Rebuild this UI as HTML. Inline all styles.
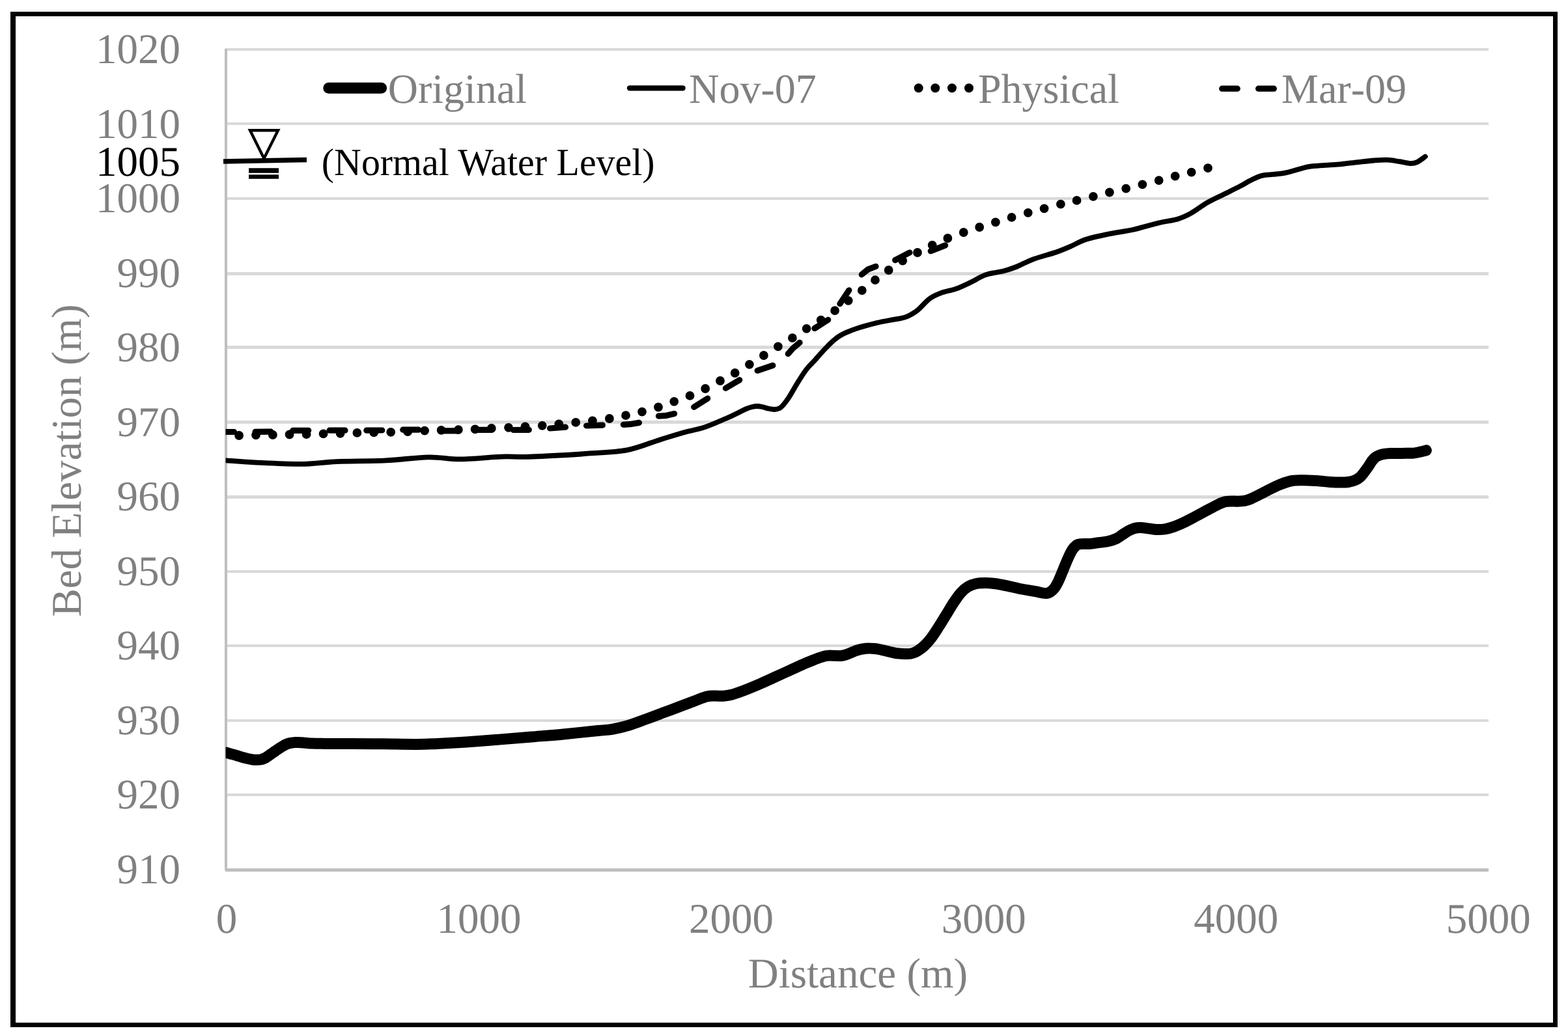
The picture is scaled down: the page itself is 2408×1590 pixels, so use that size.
<!DOCTYPE html>
<html lang="en"><head><meta charset="utf-8"><title>Bed Elevation vs Distance</title>
<style>
html,body{margin:0;padding:0;background:#fff;}
body{width:2408px;height:1590px;overflow:hidden;}
svg{display:block;}
text{font-family:"Liberation Serif",serif;font-size:65px;fill:#808080;font-kerning:none;font-variant-ligatures:none;text-rendering:geometricPrecision;}
.k{fill:#000;}
.c{fill:none;stroke:#000;stroke-linecap:round;stroke-linejoin:round;}
</style></head><body>
<svg role="img" aria-label="Bed elevation versus distance chart" width="2408" height="1590" viewBox="0 0 2408 1590">
<rect x="0" y="0" width="2408" height="1590" fill="#fff"/>
<path d="M16 18H2392V1578H16ZM24 25V1571H2385V25Z" fill="#000" fill-rule="evenodd"/>
<g fill="#D9D9D9">
<rect x="346" y="74" width="1940" height="4"/>
<rect x="346" y="188" width="1940" height="4"/>
<rect x="346" y="303" width="1940" height="4"/>
<rect x="346" y="418" width="1940" height="5"/>
<rect x="346" y="531" width="1940" height="5"/>
<rect x="346" y="646" width="1940" height="5"/>
<rect x="346" y="761" width="1940" height="5"/>
<rect x="346" y="876" width="1940" height="4"/>
<rect x="346" y="990" width="1940" height="4"/>
<rect x="346" y="1105" width="1940" height="4"/>
<rect x="346" y="1219" width="1940" height="4"/>
</g>
<g fill="#BFBFBF">
<rect x="345" y="75" width="4" height="1262"/>
<rect x="346" y="1334" width="1940" height="5"/>
</g>
<g text-anchor="end">
<text x="277" y="97.0">1020</text>
<text x="277" y="211.5">1010</text>
<text x="277" y="326.0">1000</text>
<text x="277" y="440.5">990</text>
<text x="277" y="555.0">980</text>
<text x="277" y="669.5">970</text>
<text x="277" y="784.0">960</text>
<text x="277" y="898.5">950</text>
<text x="277" y="1013.0">940</text>
<text x="277" y="1127.5">930</text>
<text x="277" y="1242.0">920</text>
<text x="277" y="1356.5">910</text>
<text class="k" x="277" y="270.3">1005</text>
</g>
<g text-anchor="middle">
<text x="348.0" y="1433">0</text>
<text x="735.5" y="1433">1000</text>
<text x="1123.1" y="1433">2000</text>
<text x="1510.7" y="1433">3000</text>
<text x="1898.2" y="1433">4000</text>
<text x="2285.8" y="1433">5000</text>
<text x="1317.5" y="1517">Distance (m)</text>
<text transform="translate(124 707.5) rotate(-90)" x="0" y="0">Bed Elevation (m)</text>
</g>
<g class="c">
<line x1="504.8" y1="135.3" x2="585.6" y2="135.3" stroke-width="17"/>
<line x1="967" y1="135.3" x2="1048.6" y2="135.3" stroke-width="8.3"/>
<path d="M1410.7 135.3h0M1436.3 135.3h0M1462 135.3h0M1488 135.3h0" stroke-width="14"/>
<path d="M1876.7 136.2H1900.2M1932.6 136.2H1956.3" stroke-width="9.3"/>
</g>
<text x="595.7" y="158" style="font-size:64px">Original</text>
<text x="1058.2" y="158" style="font-size:64px">Nov-07</text>
<text x="1502" y="158" style="font-size:64px">Physical</text>
<text x="1968" y="158" style="font-size:64px">Mar-09</text>
<g stroke="#000" fill="none">
<line x1="343" y1="248" x2="471" y2="245.5" stroke-width="7.3"/>
<polygon points="384,200.2 427,200.2 405.4,243.4" stroke-width="4.4" stroke-linejoin="miter"/>
<line x1="382.1" y1="262" x2="428" y2="262" stroke-width="7.6"/>
<line x1="382.1" y1="271.5" x2="428" y2="271.5" stroke-width="6.6"/>
</g>
<text class="k" transform="translate(493.8 269.2) scale(0.978 1)" x="0" y="0" style="font-size:59.2px;font-kerning:normal">(Normal Water Level)</text>
<clipPath id="plot"><rect x="346.6" y="60" width="1960" height="1290"/></clipPath>
<g clip-path="url(#plot)">
<path class="c" d="M347.0 1156.1C350.1 1156.9 359.8 1159.7 365.3 1161.2C370.8 1162.8 376.2 1164.4 380.0 1165.4C383.8 1166.4 385.6 1166.7 388.0 1167.0C390.4 1167.3 392.3 1167.3 394.5 1167.3C396.7 1167.3 398.8 1167.3 401.0 1166.8C403.2 1166.2 405.5 1165.4 408.0 1164.0C410.5 1162.6 412.4 1160.9 415.8 1158.6C419.2 1156.2 424.2 1152.5 428.4 1149.9C432.6 1147.3 436.9 1144.3 441.1 1142.8C445.3 1141.2 449.5 1140.9 453.7 1140.6C457.9 1140.3 462.1 1140.8 466.3 1141.0C470.5 1141.2 473.4 1141.9 479.0 1142.1C484.6 1142.3 489.8 1142.3 500.0 1142.4C510.2 1142.5 525.0 1142.4 540.0 1142.5C555.0 1142.6 573.3 1142.6 590.0 1142.8C606.7 1143.0 626.4 1143.5 640.0 1143.4C653.6 1143.4 659.0 1143.0 671.6 1142.5C684.2 1142.0 700.0 1141.2 715.8 1140.1C731.6 1139.0 749.5 1137.4 766.3 1136.1C783.1 1134.8 799.9 1133.4 816.8 1132.0C833.6 1130.6 850.5 1129.3 867.4 1127.7C884.2 1126.1 905.8 1123.7 917.9 1122.5C930.0 1121.3 932.1 1121.7 940.0 1120.3C947.9 1118.9 956.9 1116.8 965.3 1114.3C973.7 1111.8 982.1 1108.5 990.5 1105.4C998.9 1102.3 1007.4 1099.1 1015.8 1095.9C1024.2 1092.8 1032.7 1089.7 1041.1 1086.5C1049.5 1083.3 1058.9 1079.8 1066.3 1077.0C1073.7 1074.2 1080.0 1071.3 1085.3 1070.0C1090.6 1068.7 1093.7 1069.1 1097.9 1069.0C1102.1 1068.9 1106.3 1069.5 1110.5 1069.2C1114.7 1068.9 1117.9 1068.7 1123.2 1067.3C1128.5 1065.9 1134.7 1063.7 1142.1 1060.9C1149.5 1058.1 1159.0 1054.1 1167.4 1050.5C1175.8 1046.9 1184.1 1043.0 1192.6 1039.1C1201.1 1035.2 1211.1 1030.6 1218.5 1027.2C1225.9 1023.8 1230.9 1021.4 1237.1 1018.8C1243.3 1016.2 1250.2 1013.3 1255.6 1011.4C1261.0 1009.5 1264.9 1008.1 1269.5 1007.4C1274.1 1006.7 1279.6 1007.3 1283.4 1007.3C1287.2 1007.3 1289.5 1007.7 1292.6 1007.3C1295.7 1006.9 1298.0 1006.1 1301.9 1004.7C1305.8 1003.3 1311.2 1000.5 1315.8 999.1C1320.4 997.7 1325.8 996.8 1329.7 996.3C1333.6 995.8 1335.9 996.1 1339.0 996.2C1342.1 996.3 1344.4 996.4 1348.2 997.1C1352.0 997.8 1357.5 999.2 1362.1 1000.3C1366.7 1001.4 1371.4 1002.8 1376.0 1003.5C1380.6 1004.2 1386.0 1004.3 1389.9 1004.4C1393.8 1004.5 1396.1 1004.7 1399.2 1004.0C1402.3 1003.3 1405.0 1002.4 1408.3 1000.4C1411.6 998.4 1415.6 995.7 1419.3 992.2C1423.0 988.7 1426.8 984.5 1430.5 979.6C1434.2 974.7 1438.0 968.6 1441.7 962.8C1445.5 956.9 1449.2 950.6 1453.0 944.5C1456.8 938.4 1460.5 931.9 1464.2 926.3C1467.9 920.7 1471.7 915.0 1475.4 910.8C1479.1 906.6 1482.6 903.7 1486.6 901.3C1490.6 898.9 1494.8 897.5 1499.3 896.5C1503.8 895.5 1508.6 895.4 1513.3 895.4C1518.0 895.4 1521.4 895.7 1527.3 896.5C1533.2 897.3 1541.4 898.9 1548.4 900.3C1555.4 901.7 1562.4 903.6 1569.4 905.0C1576.4 906.4 1585.1 907.7 1590.5 908.7C1595.9 909.7 1598.4 910.8 1601.7 911.1C1605.0 911.5 1607.3 911.9 1610.1 910.8C1612.9 909.7 1615.9 907.5 1618.5 904.5C1621.1 901.5 1623.2 897.4 1625.5 892.6C1627.8 887.8 1630.2 881.4 1632.6 875.8C1634.9 870.2 1637.3 864.0 1639.6 858.9C1641.9 853.8 1644.3 848.5 1646.6 844.9C1648.9 841.3 1651.3 838.8 1653.6 837.2C1655.9 835.7 1657.3 835.9 1660.6 835.6C1663.9 835.3 1668.8 835.8 1673.2 835.5C1677.6 835.2 1682.5 834.2 1687.1 833.6C1691.7 833.0 1696.4 832.9 1701.0 831.8C1705.6 830.7 1711.0 829.0 1714.8 827.2C1718.6 825.4 1721.0 823.1 1724.1 821.1C1727.2 819.1 1730.3 816.9 1733.4 815.3C1736.5 813.7 1739.5 812.2 1742.6 811.4C1745.7 810.6 1748.8 810.5 1751.9 810.5C1755.0 810.5 1757.3 811.1 1761.2 811.6C1765.1 812.1 1770.5 813.2 1775.1 813.4C1779.7 813.6 1784.4 813.5 1789.0 812.8C1793.6 812.1 1798.2 810.7 1802.8 809.1C1807.4 807.5 1811.3 805.8 1816.7 803.3C1822.1 800.8 1829.1 797.0 1835.3 793.8C1841.5 790.5 1848.0 786.9 1853.8 783.8C1859.6 780.7 1865.6 777.4 1870.0 775.3C1874.4 773.2 1877.0 771.9 1880.4 771.0C1883.8 770.1 1887.1 770.0 1890.5 769.9C1893.9 769.8 1897.2 770.3 1900.6 770.2C1904.0 770.1 1907.3 770.0 1910.7 769.4C1914.1 768.8 1915.7 768.6 1920.8 766.4C1925.9 764.2 1934.3 759.7 1941.1 756.3C1947.8 752.9 1954.6 749.1 1961.3 746.2C1968.0 743.3 1975.1 740.5 1981.5 739.1C1987.9 737.7 1993.0 737.9 1999.7 737.8C2006.4 737.7 2014.8 738.2 2021.9 738.6C2029.0 739.0 2036.2 740.0 2042.1 740.4C2048.0 740.8 2052.5 741.1 2057.3 741.1C2062.1 741.1 2066.7 741.1 2070.7 740.5C2074.7 739.9 2078.5 738.8 2081.5 737.5C2084.5 736.2 2086.2 735.2 2088.6 733.0C2091.0 730.8 2093.7 727.1 2095.8 724.4C2098.0 721.6 2099.7 719.1 2101.5 716.5C2103.3 713.9 2104.8 711.0 2106.5 708.7C2108.2 706.5 2109.7 704.5 2111.5 703.0C2113.3 701.5 2115.2 700.6 2117.3 699.7C2119.5 698.8 2121.4 698.1 2124.4 697.6C2127.4 697.1 2130.4 696.7 2135.2 696.5C2140.0 696.3 2147.1 696.5 2153.1 696.4C2159.1 696.3 2166.2 696.5 2171.0 696.1C2175.8 695.7 2178.5 694.7 2181.7 694.0C2184.9 693.3 2188.9 692.2 2190.3 691.8" stroke-width="17"/>
<path class="c" d="M347.0 707.4C354.2 707.9 371.4 709.5 390.5 710.4C409.6 711.3 440.2 713.1 461.3 712.9C482.4 712.7 495.0 710.0 516.9 709.1C538.8 708.2 569.0 708.5 592.6 707.4C616.2 706.3 639.3 702.6 658.3 702.3C677.2 702.0 687.8 705.5 706.3 705.4C724.8 705.3 752.6 702.2 769.5 701.6C786.4 701.0 790.6 702.2 807.4 701.8C824.2 701.4 855.1 699.8 870.5 699.0C885.9 698.2 884.5 698.2 900.0 696.9C915.5 695.6 944.2 694.9 963.2 691.3C982.2 687.7 999.0 679.9 1013.7 675.4C1028.4 670.9 1040.2 667.2 1051.6 664.0C1063.0 660.8 1071.4 659.9 1081.9 656.4C1092.4 652.9 1106.2 646.6 1114.7 643.0C1123.2 639.4 1127.5 637.1 1132.6 634.7C1137.7 632.3 1141.5 630.0 1145.3 628.4C1149.1 626.8 1152.5 625.7 1155.4 625.0C1158.3 624.3 1160.4 624.0 1162.9 624.0C1165.4 624.0 1167.5 624.4 1170.5 625.0C1173.5 625.6 1177.4 627.1 1180.6 627.8C1183.8 628.5 1186.8 629.1 1189.5 629.0C1192.2 628.9 1194.8 628.5 1197.1 627.2C1199.4 626.0 1201.1 624.1 1203.4 621.5C1205.7 618.9 1208.4 615.2 1210.9 611.4C1213.4 607.6 1216.0 602.9 1218.5 598.7C1221.0 594.5 1223.6 590.2 1226.1 586.1C1228.6 582.0 1231.2 577.8 1233.7 574.1C1236.2 570.4 1238.3 567.5 1241.3 564.0C1244.2 560.5 1248.0 557.0 1251.4 553.3C1254.8 549.6 1258.1 545.6 1261.5 541.9C1264.9 538.2 1268.2 534.6 1271.6 531.2C1275.0 527.8 1278.3 524.5 1281.7 521.7C1285.1 519.0 1288.2 516.8 1291.8 514.7C1295.4 512.6 1299.2 511.0 1303.2 509.3C1307.2 507.6 1311.6 506.0 1315.8 504.6C1320.0 503.2 1323.1 502.3 1328.4 500.8C1333.7 499.3 1341.1 497.3 1347.4 495.8C1353.7 494.3 1361.0 493.0 1366.3 492.0C1371.5 491.0 1375.1 490.6 1378.9 489.9C1382.7 489.2 1385.8 488.6 1389.0 487.6C1392.2 486.6 1394.5 485.7 1397.9 483.8C1401.3 481.9 1404.3 480.7 1409.3 476.5C1414.3 472.3 1421.9 463.1 1427.9 458.7C1434.0 454.3 1438.9 452.4 1445.6 449.9C1452.3 447.4 1460.7 446.3 1468.3 443.6C1475.9 440.9 1483.5 437.1 1491.1 433.5C1498.7 429.9 1505.4 425.0 1513.8 422.1C1522.2 419.2 1533.6 418.4 1541.6 416.3C1549.6 414.2 1554.2 412.5 1561.8 409.5C1569.4 406.5 1577.0 401.8 1587.1 398.1C1597.2 394.4 1613.2 390.4 1622.5 387.2C1631.8 384.0 1635.1 382.4 1642.7 379.2C1650.3 376.0 1657.4 371.2 1667.9 367.8C1678.4 364.4 1693.7 361.4 1705.8 358.9C1717.9 356.4 1728.4 355.5 1740.5 352.8C1752.6 350.1 1767.0 345.4 1778.4 342.7C1789.8 340.0 1800.3 338.9 1808.7 336.4C1817.1 333.9 1821.4 331.8 1829.0 327.6C1836.6 323.4 1845.8 316.1 1854.2 311.2C1862.6 306.3 1871.1 302.7 1879.5 298.5C1887.9 294.3 1897.9 289.4 1904.7 285.9C1911.5 282.4 1914.5 280.0 1920.2 277.3C1925.9 274.6 1930.8 271.4 1938.7 269.6C1946.6 267.8 1959.2 268.0 1967.4 266.7C1975.6 265.4 1980.6 263.8 1987.6 262.0C1994.6 260.2 2001.7 257.5 2009.5 256.1C2017.3 254.7 2026.3 254.5 2034.7 253.8C2043.1 253.1 2051.6 252.9 2060.0 252.1C2068.4 251.3 2076.9 250.0 2085.3 249.1C2093.7 248.2 2102.9 247.1 2110.5 246.5C2118.1 245.9 2124.2 245.4 2130.7 245.7C2137.2 246.0 2143.4 247.3 2149.3 248.2C2155.2 249.1 2161.6 250.9 2166.1 251.1C2170.6 251.2 2172.4 250.8 2176.2 249.1C2180.0 247.3 2186.7 242.0 2188.8 240.6" stroke-width="7.8"/>
<path class="c" d="M340.0 663.5L359.5 663.5M392.0 663.4L416.0 663.2M449.7 661.4L473.7 661.3M506.0 661.2L530.0 661.2M562.8 661.2L586.8 661.0M618.7 660.2L642.7 660.2M678.9 661.8L702.6 661.8M730.2 660.4L754.2 660.4M788.3 660.5L812.3 660.3M844.5 658.0L868.5 656.2M900.6 654.0L925.4 653.1M957.4 652.4L968.0 651.7L981.4 649.4M1011.5 639.2L1021.7 638.7L1035.6 635.5M1065.7 625.3L1086.7 612.1M1114.4 596.4L1135.7 583.7M1163.2 569.4L1186.8 561.4M1210.3 543.6L1217.8 535.0L1228.1 526.3M1251.0 504.5L1271.7 491.3M1289.9 466.7L1303.8 445.9M1323.3 421.8L1333.0 413.9L1345.0 409.3M1374.7 399.6L1396.9 388.0M1429.3 385.7L1451.6 376.9" stroke-width="9.2"/>
<path class="c" d="M367.1 669.0h0M393.0 668.3h0M418.9 668.0h0M444.6 667.5h0M470.6 667.0h0M496.6 666.4h0M522.6 665.8h0M548.4 664.9h0M574.2 664.4h0M600.2 663.8h0M626.1 663.2h0M652.1 661.6h0M677.6 660.8h0M703.9 660.1h0M729.6 659.4h0M754.8 658.0h0M781.0 656.8h0M806.5 655.5h0M832.7 653.8h0M858.3 651.5h0M884.2 648.9h0M909.9 646.3h0M935.9 643.0h0M961.0 638.2h0M986.0 632.6h0M1011.0 625.5h0M1035.2 616.8h0M1059.5 607.9h0M1083.2 597.0h0M1106.0 585.0h0M1128.7 573.0h0M1150.9 559.8h0M1172.9 546.0h0M1194.9 532.3h0M1216.9 519.2h0M1238.6 504.8h0M1260.7 491.6h0M1282.1 477.1h0M1302.8 461.8h0M1323.8 446.1h0M1344.0 430.2h0M1364.7 415.0h0M1386.2 400.6h0M1409.0 388.0h0M1431.7 376.6h0M1455.4 366.0h0M1479.8 357.0h0M1504.2 349.0h0M1528.9 341.4h0M1553.6 333.9h0M1578.8 326.8h0M1603.6 320.3h0M1628.9 313.7h0M1653.6 307.9h0M1678.9 301.8h0M1703.9 295.5h0M1729.2 289.7h0M1754.4 283.4h0M1779.7 277.1h0M1804.7 270.7h0M1829.7 264.7h0M1855.0 258.1h0" stroke-width="13.8"/>
</g>
</svg>
</body></html>
